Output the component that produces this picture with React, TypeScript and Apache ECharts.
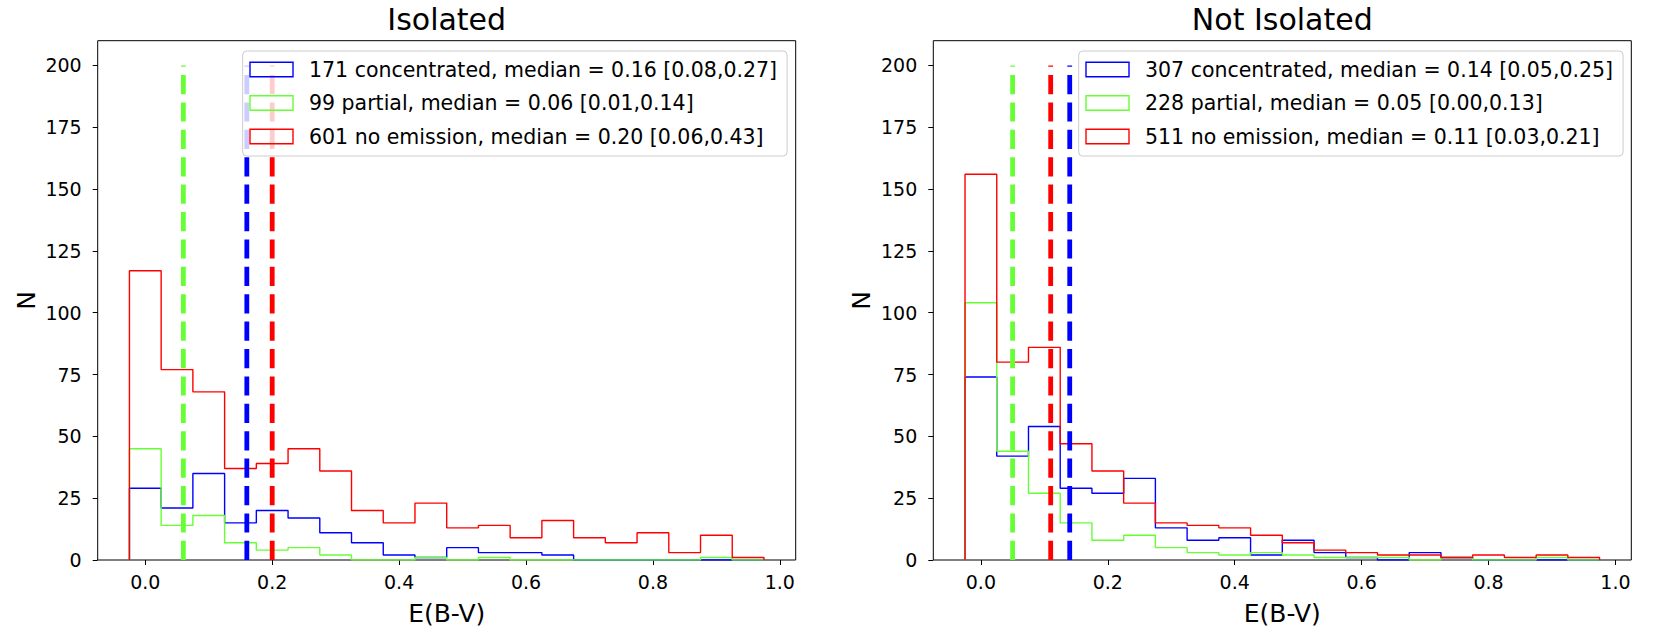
import React, { useEffect, useRef } from "react";
import * as echarts from "echarts";

// Histogram bins: 20 bins of width 0.05 starting at -0.025
const BIN_START = -0.025;
const BIN_WIDTH = 0.05;

// Isolated
const isoConcentrated = [29, 21, 35, 15, 20, 17, 11, 7, 2, 1, 5, 3, 3, 2, 0, 0, 0, 0, 0, 0];
const isoPartial = [45, 14, 18, 7, 4, 5, 2, 0, 0, 1, 0, 1, 0, 0, 0, 0, 0, 0, 1, 0];
const isoNoEmission = [117, 77, 68, 37, 39, 45, 36, 20, 15, 23, 13, 14, 9, 16, 9, 7, 11, 3, 10, 1];
const isoMedians = [0.16, 0.06, 0.2]; // concentrated, partial, no emission
const isoLabels = [
  "171 concentrated, median = 0.16 [0.08,0.27]",
  "99 partial, median = 0.06 [0.01,0.14]",
  "601 no emission, median = 0.20 [0.06,0.43]",
];

// Not Isolated
const notConcentrated = [74, 42, 54, 29, 27, 33, 13, 8, 9, 2, 8, 3, 1, 0, 3, 1, 0, 0, 0, 0];
const notPartial = [104, 44, 27, 15, 8, 10, 5, 3, 2, 3, 2, 1, 1, 1, 0, 1, 0, 0, 1, 0];
const notNoEmission = [156, 80, 86, 47, 36, 23, 15, 14, 13, 10, 7, 4, 3, 2, 2, 1, 2, 1, 2, 1];
const notMedians = [0.14, 0.05, 0.11];
const notLabels = [
  "307 concentrated, median = 0.14 [0.05,0.25]",
  "228 partial, median = 0.05 [0.00,0.13]",
  "511 no emission, median = 0.11 [0.03,0.21]",
];

const titles = ["Isolated", "Not Isolated"];
const xTicks = [0, 0.2, 0.4, 0.6, 0.8, 1.0];
const yTicks = [0, 25, 50, 75, 100, 125, 150, 175, 200];
const MEDIAN_TOP = 200;

const COLORS = ["#0000ff", "#66ff33", "#ff0000"];
const FONT = "DejaVu Sans";

function stepPoints(counts: number[]) {
  const pts: number[][] = [[BIN_START, 0]];
  counts.forEach((c, i) => {
    const x0 = +(BIN_START + i * BIN_WIDTH).toFixed(6);
    const x1 = +(BIN_START + (i + 1) * BIN_WIDTH).toFixed(6);
    pts.push([x0, c]);
    pts.push([x1, c]);
  });
  pts.push([+(BIN_START + counts.length * BIN_WIDTH).toFixed(6), 0]);
  return pts;
}

const GRID_TOP = 40.7;
const GRID_H = 519.3;
const GRID_W = 698;
const GRID_LEFTS = [97.7, 933.3];

export default function App() {
  const ref = useRef<HTMLDivElement>(null);

  useEffect(() => {
    if (!ref.current) return;
    const chart = echarts.init(ref.current, null, { renderer: "svg" });

    const panels = [
      { hists: [isoConcentrated, isoPartial, isoNoEmission], medians: isoMedians, labels: isoLabels },
      { hists: [notConcentrated, notPartial, notNoEmission], medians: notMedians, labels: notLabels },
    ];

    const grids: any[] = [];
    const xAxes: any[] = [];
    const yAxes: any[] = [];
    const series: any[] = [];
    const legends: any[] = [];
    const titleOpts: any[] = [];

    panels.forEach((p, k) => {
      grids.push({
        left: GRID_LEFTS[k],
        top: GRID_TOP,
        width: GRID_W,
        height: GRID_H,
        show: true,
        borderColor: "#000",
        borderWidth: 1,
        backgroundColor: "transparent",
        containLabel: false,
      });
      xAxes.push({
        type: "value",
        gridIndex: k,
        position: "bottom",
        min: -0.075,
        max: 1.025,
        name: "E(B-V)",
        nameLocation: "middle",
        nameGap: 41,
        nameTextStyle: { fontSize: 25, fontFamily: FONT, color: "#000" },
        axisLine: { show: false, onZero: false },
        splitLine: { show: false },
        axisTick: { show: true, length: 5, lineStyle: { color: "#000", width: 1 }, customValues: xTicks },
        axisLabel: {
          customValues: xTicks,
          formatter: (v: number) => v.toFixed(1),
          fontSize: 19,
          fontFamily: FONT,
          color: "#000",
          margin: 12,
        },
      });
      yAxes.push({
        type: "value",
        gridIndex: k,
        position: "left",
        min: 0,
        max: 210,
        name: "N",
        nameLocation: "middle",
        nameGap: 59,
        nameTextStyle: { fontSize: 25, fontFamily: FONT, color: "#000" },
        axisLine: { show: false, onZero: false },
        splitLine: { show: false },
        axisTick: { show: true, length: 5, lineStyle: { color: "#000", width: 1 }, customValues: yTicks },
        axisLabel: {
          customValues: yTicks,
          fontSize: 19,
          fontFamily: FONT,
          color: "#000",
          margin: 16,
        },
      });
      titleOpts.push({
        text: titles[k],
        left: GRID_LEFTS[k] + GRID_W / 2,
        top: 4,
        textAlign: "center",
        padding: 0,
        textStyle: { fontSize: 30, fontWeight: "normal", fontFamily: FONT, color: "#000" },
      });

      p.hists.forEach((h, j) => {
        series.push({
          name: p.labels[j],
          type: "line",
          xAxisIndex: k,
          yAxisIndex: k,
          data: stepPoints(h),
          symbol: "none",
          showSymbol: false,
          lineStyle: { color: COLORS[j], width: 1.4 },
          itemStyle: { color: COLORS[j] },
          silent: true,
          z: 2,
        });
      });
      p.medians.forEach((m, j) => {
        series.push({
          name: `median-${k}-${j}`,
          type: "line",
          xAxisIndex: k,
          yAxisIndex: k,
          data: [
            [m, 0],
            [m, MEDIAN_TOP],
          ],
          symbol: "none",
          showSymbol: false,
          lineStyle: { color: COLORS[j], width: 4.8, type: [19.2, 8.2] },
          silent: true,
          z: 3,
        });
      });

      legends.push({
        orient: "vertical",
        left: k === 0 ? 242.7 : 1078.7,
        top: 51,
        itemWidth: 43,
        itemHeight: 14.6,
        itemGap: 12.5,
        padding: [8, 10, 9, 6.6],
        backgroundColor: "rgba(255,255,255,0.8)",
        borderColor: "#cccccc",
        borderWidth: 1,
        borderRadius: 4,
        selectedMode: false,
        z: 5,
        textStyle: { fontSize: 20.5, fontFamily: FONT, color: "#000", padding: [0, 0, 0, 11] },
        data: p.labels.map((l, j) => ({
          name: l,
          icon: "rect",
          itemStyle: { color: "rgba(255,255,255,0)", borderColor: COLORS[j], borderWidth: 1.4 },
        })),
      });
    });

    chart.setOption({
      animation: false,
      backgroundColor: "#ffffff",
      textStyle: { fontFamily: FONT },
      title: titleOpts,
      grid: grids,
      xAxis: xAxes,
      yAxis: yAxes,
      legend: legends,
      series,
    });

    return () => chart.dispose();
  }, []);

  return (
    <div
      ref={ref}
      style={{ position: "fixed", left: 0, top: 0, width: 1658, height: 638, background: "#fff" }}
    />
  );
}
